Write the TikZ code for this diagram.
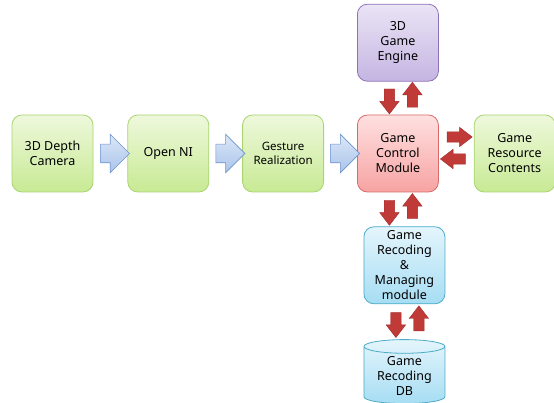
\documentclass[tikz,border=0pt]{standalone}
\usepackage{fontspec}
\setmainfont{Noto Sans}
\usetikzlibrary{positioning,shapes.geometric,shapes.arrows}

\definecolor{greenTop}{HTML}{EEF8DC}
\definecolor{greenBot}{HTML}{C8EA94}
\definecolor{greenLine}{HTML}{A9D46F}
\definecolor{purpleTop}{HTML}{EAE4F5}
\definecolor{purpleBot}{HTML}{C5B5E2}
\definecolor{purpleLine}{HTML}{8E72B8}
\definecolor{redTop}{HTML}{FFE0E0}
\definecolor{redBot}{HTML}{F7A3A3}
\definecolor{redLine}{HTML}{D86A6A}
\definecolor{blueTop}{HTML}{E4F5FC}
\definecolor{blueBot}{HTML}{A6DDF3}
\definecolor{blueLine}{HTML}{4BACC6}
\definecolor{arrowTop}{HTML}{DCE7F7}
\definecolor{arrowBot}{HTML}{A9C4EA}
\definecolor{arrowLine}{HTML}{6C93CF}
\definecolor{redArrow}{HTML}{C03A38}
\definecolor{redArrowDark}{HTML}{A52B2A}

\tikzset{
  box/.style={rectangle, rounded corners=10pt, minimum width=81pt,
    minimum height=77pt, align=center, line width=0.8pt,
    font=\fontsize{12.5}{15}\selectfont, inner sep=2pt},
  greenbox/.style={box, draw=greenLine, top color=greenTop, bottom color=greenBot},
  purplebox/.style={box, draw=purpleLine, top color=purpleTop, bottom color=purpleBot},
  redbox/.style={box, draw=redLine, top color=redTop, bottom color=redBot},
  bluebox/.style={box, draw=blueLine, top color=blueTop, bottom color=blueBot},
  dbstyle/.style={cylinder, shape border rotate=90, aspect=0.25,
    minimum width=81pt, minimum height=64pt, draw=blueLine, line width=0.8pt,
    top color=blueTop, bottom color=blueBot, align=center,
    font=\fontsize{12.5}{15}\selectfont, inner sep=0pt},
  bluearrow/.style={single arrow, draw=arrowLine, line width=0.6pt,
    top color=arrowTop, bottom color=arrowBot, inner xsep=0pt, inner ysep=9pt,
    single arrow head extend=10pt, minimum height=29pt},
  redarrow/.style={single arrow, draw=redArrowDark, line width=0.4pt,
    fill=redArrow, inner xsep=0pt, inner ysep=5pt, single arrow tip angle=75,
    single arrow head extend=4.5pt, minimum height=25pt},
}

\begin{document}
\begin{tikzpicture}
\useasboundingbox (0,0) rectangle (554pt,-403pt);

% main chain
\node[greenbox] (cam) at (52.5pt,-153.5pt) {3D Depth\\Camera};
\node[greenbox, right=34pt of cam] (ni) {Open NI};
\node[greenbox, right=33pt of ni, font=\fontsize{11.5}{14}\selectfont] (ges) {Gesture\\Realization};
\node[redbox, right=33pt of ges] (ctrl) {Game\\Control\\Module};
\node[greenbox, right=35pt of ctrl] (res) {Game\\Resource\\Contents};
\node[purplebox, above=33pt of ctrl] (eng) {3D\\Game\\Engine};
\node[bluebox, below=34pt of ctrl, xshift=6.5pt] (mng) {Game\\Recoding\\\&\\Managing\\module};
\node[dbstyle, below=35pt of mng] (db) {\\[-4pt]Game\\Recoding\\DB};

% blue arrows
\path (cam.east) -- node[bluearrow] (a1) {} (ni.west);
\path (ni.east) -- node[bluearrow] (a2) {} (ges.west);
\path (ges.east) -- node[bluearrow] (a3) {} (ctrl.west);

% red arrows
\path ([xshift=-8.5pt]eng.south) -- node[redarrow, rotate=-90] (e1) {} ([xshift=-8.5pt]ctrl.north);
\path ([xshift=14.5pt]eng.south) -- node[redarrow, rotate=90] (e2) {} ([xshift=14.5pt]ctrl.north);
\path ([yshift=16.5pt]ctrl.east) -- node[redarrow] (r1) {} ([yshift=16.5pt]res.west);
\path ([yshift=-5.5pt]ctrl.east) -- node[redarrow, rotate=180] (r2) {} ([yshift=-5.5pt]res.west);
\path ([xshift=-8.5pt]ctrl.south) -- node[redarrow, rotate=-90] (m1) {} ([xshift=-15pt]mng.north);
\path ([xshift=14.5pt]ctrl.south) -- node[redarrow, rotate=90] (m2) {} ([xshift=8pt]mng.north);
\path ([xshift=-8.5pt]mng.south) -- node[redarrow, rotate=-90] (d1) {} ([xshift=-8.5pt]db.top);
\path ([xshift=14.5pt]mng.south) -- node[redarrow, rotate=90] (d2) {} ([xshift=14.5pt]db.top);
\end{tikzpicture}
\end{document}
